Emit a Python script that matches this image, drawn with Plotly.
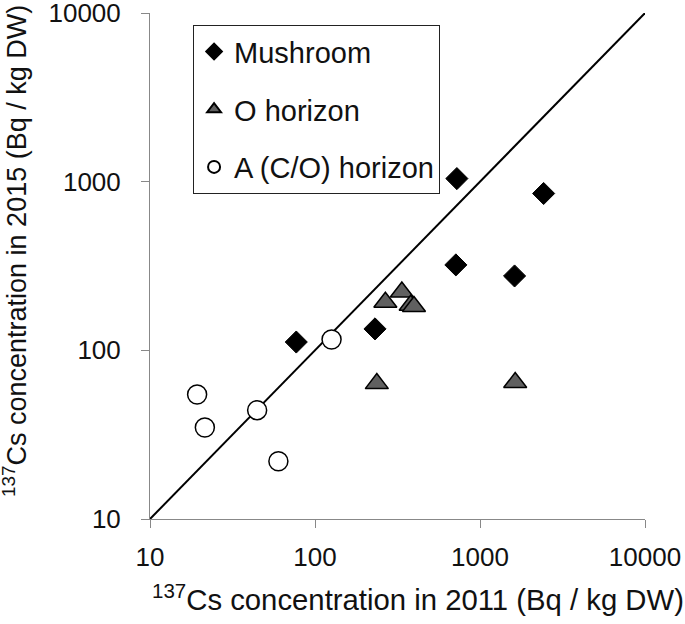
import plotly.graph_objects as go

# Mushroom
mush_x = [724, 2430, 714, 1620, 231, 77]
mush_y = [1043, 851, 321, 276, 134, 112]
# O horizon
o_x = [267, 336, 380, 398, 237, 1634]
o_y = [193, 222, 185, 182, 63.5, 64.4]
# A (C/O) horizon
a_x = [126, 44.6, 19.3, 21.5, 60]
a_y = [116, 44.2, 54.7, 34.9, 22]
# 1:1 line
line_x = [10, 10000]
line_y = [10, 10000]
tick_vals = [10, 100, 1000, 10000]
tick_text = ["10", "100", "1000", "10000"]
x_title = "<sup>137</sup>Cs concentration in 2011 (Bq / kg DW)"
y_title = "<sup>137</sup>Cs concentration in 2015 (Bq / kg DW)"

FONT = "Liberation Sans, Arial"

fig = go.Figure()
fig.add_trace(go.Scatter(x=line_x, y=line_y, mode="lines",
                         line=dict(color="black", width=2), showlegend=False,
                         hoverinfo="skip"))
fig.add_trace(go.Scatter(x=mush_x, y=mush_y, mode="markers", name="Mushroom",
                         legendgroup="m",
                         marker=dict(symbol="diamond", size=17, color="black",
                                     line=dict(color="black", width=1))))
fig.add_trace(go.Scatter(x=o_x, y=o_y, mode="markers", name="O horizon",
                         legendgroup="o",
                         marker=dict(symbol="triangle-up", size=20, color="#606060",
                                     line=dict(color="black", width=1.5))))
fig.add_trace(go.Scatter(x=a_x, y=a_y, mode="markers", name="A (C/O) horizon",
                         legendgroup="a",
                         marker=dict(symbol="circle", size=19, color="white",
                                     line=dict(color="black", width=1.5))))

axis_common = dict(type="log", range=[1, 4], showgrid=False, zeroline=False,
                   showline=True, linecolor="#888", linewidth=1,
                   ticks="outside", ticklen=8, tickcolor="#888", tickwidth=1,
                   tickvals=tick_vals, ticktext=tick_text,
                   tickfont=dict(family=FONT, size=26, color="#111"),
                   mirror=False, automargin=False, ticklabeloverflow="allow")

fig.update_layout(
    width=685, height=624,
    margin=dict(l=150, r=40, t=13, b=105),
    paper_bgcolor="white", plot_bgcolor="white",
    font=dict(family=FONT, color="#111"),
    xaxis=dict(**axis_common, ticklabelstandoff=7),
    yaxis=dict(**axis_common, ticklabelstandoff=15),
    legend=dict(x=0.087, y=0.976, xanchor="left", yanchor="top",
                bordercolor="#222", borderwidth=1, bgcolor="white",
                font=dict(size=29, color="#111"), tracegroupgap=17,
                itemsizing="constant"),
    showlegend=True,
    annotations=[
        dict(text=x_title, xref="paper", yref="paper", x=0.5414, y=-0.155,
             xanchor="center", yanchor="middle", showarrow=False,
             font=dict(family=FONT, size=29.3, color="#111")),
        dict(text=y_title, xref="paper", yref="paper", x=-0.2727, y=0.5296,
             xanchor="center", yanchor="middle", showarrow=False, textangle=-90,
             font=dict(family=FONT, size=27, color="#111")),
    ],
)

fig.write_html("out.html", config={"displayModeBar": False},
               post_script="document.body.style.margin='0px';")
